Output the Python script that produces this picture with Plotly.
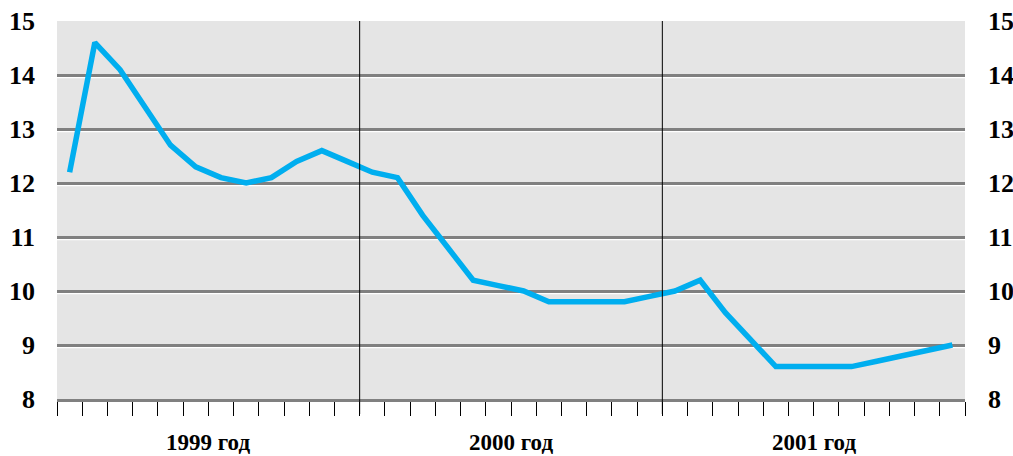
import plotly.graph_objects as go

# Monthly values, Jan 1999 .. Dec 2001
rate_1999 = [12.2, 14.6, 14.1, 13.4, 12.7, 12.3, 12.1, 12.0, 12.1, 12.4, 12.6, 12.4]
rate_2000 = [12.2, 12.1, 11.4, 10.8, 10.2, 10.1, 10.0, 9.8, 9.8, 9.8, 9.8, 9.9]
rate_2001 = [10.0, 10.2, 9.6, 9.1, 8.6, 8.6, 8.6, 8.6, 8.7, 8.8, 8.9, 9.0]
year_labels = ["1999 год", "2000 год", "2001 год"]
y_ticks = [8, 9, 10, 11, 12, 13, 14, 15]

values = rate_1999 + rate_2000 + rate_2001
months = [i + 0.5 for i in range(len(values))]  # centred inside each month slot
n_months = len(values)

LABEL_FONT = dict(family="Liberation Serif", size=26, color="black")
GRID = "#808080"
y_text = ["<b>%d</b>" % v for v in y_ticks]

fig = go.Figure()
fig.add_trace(go.Scatter(
    x=months, y=values, mode="lines",
    line=dict(color="#00AEEF", width=5.5),
    hoverinfo="skip", showlegend=False,
))
# mirror series on the right-hand axis so it gets drawn
fig.add_trace(go.Scatter(
    x=months, y=values, mode="lines", yaxis="y2",
    line=dict(color="rgba(0,0,0,0)", width=0),
    hoverinfo="skip", showlegend=False,
))

shapes = []
# white highlight just under each horizontal gridline
for v in y_ticks[1:-1]:
    shapes.append(dict(
        type="rect", xref="paper", x0=0, x1=1,
        yref="y", ysizemode="pixel", yanchor=v, y0=-1.5, y1=-3.2,
        fillcolor="white", line=dict(width=0), layer="below",
    ))
# year separators running down through the tick marks
plot_h = 456 - 21 - 57
for k in range(1, len(year_labels)):
    shapes.append(dict(
        type="line", xref="x", x0=12 * k, x1=12 * k,
        yref="paper", y0=-15 / plot_h, y1=1,
        line=dict(color="black", width=1), layer="above",
    ))

annotations = []
for k, lab in enumerate(year_labels):
    annotations.append(dict(
        x=12 * k + 6, xref="x", y=-43 / plot_h, yref="paper",
        text="<b>%s</b>" % lab, showarrow=False, xanchor="center", yanchor="middle",
        font=dict(family="Liberation Serif", size=23, color="black"),
    ))

fig.update_layout(
    width=1013, height=456,
    margin=dict(l=57, r=48, t=21, b=57),
    paper_bgcolor="white", plot_bgcolor="#E5E5E5",
    shapes=shapes, annotations=annotations,
    xaxis=dict(
        range=[0, n_months], tickvals=list(range(n_months + 1)),
        showticklabels=False, ticks="outside", ticklen=14,
        tickcolor="black", tickwidth=1,
        showgrid=False, zeroline=False, automargin=False,
        showline=True, linecolor=GRID, linewidth=2.5,
    ),
    yaxis=dict(
        range=[8, 15], tickvals=y_ticks, ticktext=y_text, ticks="",
        showgrid=True, gridcolor=GRID, gridwidth=2.5, zeroline=False,
        tickfont=LABEL_FONT, ticklabelstandoff=21, automargin=False,
    ),
    yaxis2=dict(
        range=[8, 15], tickvals=y_ticks, ticktext=y_text, ticks="",
        overlaying="y", side="right",
        showgrid=False, zeroline=False,
        tickfont=LABEL_FONT, ticklabelstandoff=22, automargin=False,
    ),
)

fig.write_html("out.html")
